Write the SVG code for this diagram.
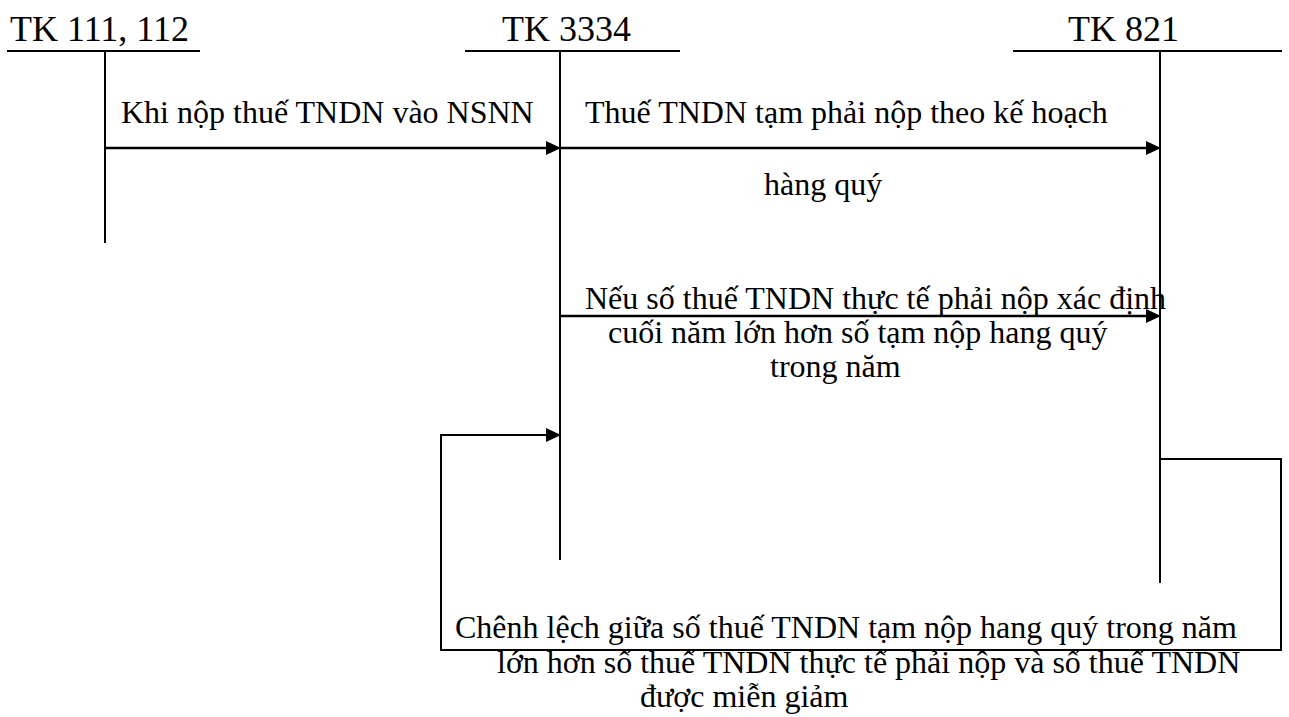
<svg xmlns="http://www.w3.org/2000/svg" width="1289" height="717" viewBox="0 0 1289 717">
<style>
text{font-family:"Liberation Serif","Times New Roman",serif;fill:#000}
.t{font-size:36px}
.l{font-size:32px}
.ln{stroke:#000;stroke-width:2;fill:none}
.c{stroke:#000;stroke-width:2.5;fill:none}
</style>
<rect width="1289" height="717" fill="#fff"/>
<g id="tk111">
<text class="t" x="10" y="41">TK 111, 112</text>
<line class="ln" x1="7" y1="51" x2="200" y2="51"/>
<line class="ln" x1="105" y1="51" x2="105" y2="243"/>
</g>
<g id="tk3334">
<text class="t" x="502" y="41">TK 3334</text>
<line class="ln" x1="465" y1="51" x2="680" y2="51"/>
<line class="ln" x1="560" y1="51" x2="560" y2="560"/>
</g>
<g id="tk821">
<text class="t" x="1068" y="41">TK 821</text>
<line class="ln" x1="1013" y1="51" x2="1282" y2="51"/>
<line class="ln" x1="1160" y1="51" x2="1160" y2="583"/>
</g>
<g id="connectors">
<path class="c" d="M105,148 H550"/>
<path d="M546,141 L561,148 L546,155 Z"/>
<path class="c" d="M560,148 H1150"/>
<path d="M1146,141 L1161,148 L1146,155 Z"/>
<path class="c" d="M560,316 H1150"/>
<path d="M1146,309 L1161,316 L1146,323 Z"/>
<path class="ln" d="M1160,459 H1281 V650 H441 V435 H550"/>
<path d="M546,428 L561,435 L546,442 Z"/>
</g>
<g id="labels">
<text class="l" x="121" y="123">Khi nộp thuế TNDN vào NSNN</text>
<text class="l" x="585" y="123">Thuế TNDN tạm phải nộp theo kế hoạch</text>
<text class="l" x="764" y="195">hàng quý</text>
<text class="l" x="585" y="309">Nếu số thuế TNDN thực tế phải nộp xác định</text>
<text class="l" x="608" y="343">cuối năm lớn hơn số tạm nộp hang quý</text>
<text class="l" x="770" y="377">trong năm</text>
<text class="l" x="455" y="638">Chênh lệch giữa số thuế TNDN tạm nộp hang quý trong năm</text>
<text class="l" x="497" y="673">lớn hơn số thuế TNDN thực tế phải nộp và số thuế TNDN</text>
<text class="l" x="640" y="707">được miễn giảm</text>
</g>
</svg>
